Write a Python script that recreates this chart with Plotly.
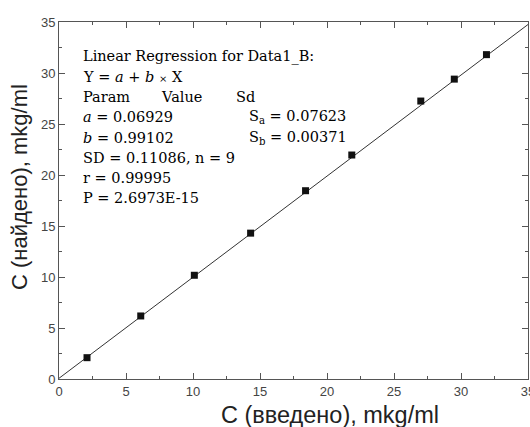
import plotly.graph_objects as go

# Data
x_intro = [2.09, 6.1, 10.1, 14.3, 18.4, 21.85, 27.0, 29.5, 31.9]
y_found = [2.09, 6.18, 10.17, 14.3, 18.46, 21.96, 27.25, 29.4, 31.8]

# Regression parameters (from the in-chart text)
a_coef = 0.06929
b_coef = 0.99102
fit_x = [0, 35]
fit_y = [a_coef + b_coef * v for v in fit_x]

# Axis labels / ticks
x_title = "C (введено), mkg/ml"
y_title = "C (найдено), mkg/ml"
tick_vals = [0, 5, 10, 15, 20, 25, 30, 35]

# Regression text block
reg_lines = [
    "Linear Regression for Data1_B:",
    "Y = <i>a</i> + <i>b</i> <span style='font-size:10px'>×</span> X",
    "Param",
    "<i>a</i> = 0.06929",
    "<i>b</i> = 0.99102",
    "SD = 0.11086, n = 9",
    "r = 0.99995",
    "P = 2.6973E-15",
]
header_value = "Value"
header_sd = "Sd"
sd_lines = ["S<sub>a</sub> = 0.07623", "S<sub>b</sub> = 0.00371"]

W, H = 530, 427
L, R, T, B = 59, 2, 22, 48
pw, ph = W - L - R, H - T - B


def px(xp):
    return (xp - L) / pw


def py(yp):
    return (H - B - yp) / ph


fig = go.Figure()
fig.add_trace(go.Scatter(x=fit_x, y=fit_y, mode="lines",
                         line=dict(color="#333333", width=1), showlegend=False))
fig.add_trace(go.Scatter(x=x_intro, y=y_found, mode="markers",
                         marker=dict(symbol="square", size=7, color="#111111"),
                         showlegend=False))

serif = dict(family="DejaVu Serif", size=14.5, color="#000000")
ann = []
y0, dy = 56.7, 20.2
for i, t in enumerate(reg_lines):
    ann.append(dict(text=t, x=px(81), y=py(y0 + i * dy), xref="paper", yref="paper",
                    xanchor="left", yanchor="middle", showarrow=False, font=serif))
ann.append(dict(text=header_value, x=px(159), y=py(y0 + 2 * dy), xref="paper", yref="paper",
                xanchor="left", yanchor="middle", showarrow=False, font=serif))
ann.append(dict(text=header_sd, x=px(234), y=py(y0 + 2 * dy), xref="paper", yref="paper",
                xanchor="left", yanchor="middle", showarrow=False, font=serif))
for i, t in enumerate(sd_lines):
    ann.append(dict(text=t, x=px(247), y=py(y0 + (3 + i) * dy), xref="paper", yref="paper",
                    xanchor="left", yanchor="middle", showarrow=False, font=serif))

ann.append(dict(text=x_title, x=px(330), y=py(415), xref="paper", yref="paper",
                xanchor="center", yanchor="middle", showarrow=False,
                font=dict(family="Liberation Sans, Arial", size=23.5, color="#222222")))
ann.append(dict(text=y_title, x=px(19), y=py(187), xref="paper", yref="paper",
                xanchor="center", yanchor="middle", showarrow=False,
                font=dict(family="Liberation Sans, Arial", size=22, color="#222222"),
                textangle=-90))
fig.update_layout(annotations=ann)

axis_common = dict(
    range=[0, 35], tickvals=tick_vals, ticks="inside", ticklen=6, tickwidth=1,
    tickcolor="#555555", showline=True, linecolor="#555555", linewidth=1,
    mirror="ticks", showgrid=False, zeroline=False, ticklabeloverflow="allow",
    automargin=False,
    tickfont=dict(family="Liberation Sans, Arial", size=13, color="#444444"),
    minor=dict(dtick=2.5, tick0=0, ticks="inside", ticklen=3, tickcolor="#555555",
               showgrid=False),
)
fig.update_xaxes(**axis_common)
fig.update_yaxes(**axis_common)

fig.update_layout(
    width=W, height=H,
    margin=dict(l=L, r=R, t=T, b=B),
    paper_bgcolor="white", plot_bgcolor="white",
)
fig.write_html("out.html", config={"displayModeBar": False},
               post_script="document.body.style.margin='0px';document.body.style.overflow='hidden';")
